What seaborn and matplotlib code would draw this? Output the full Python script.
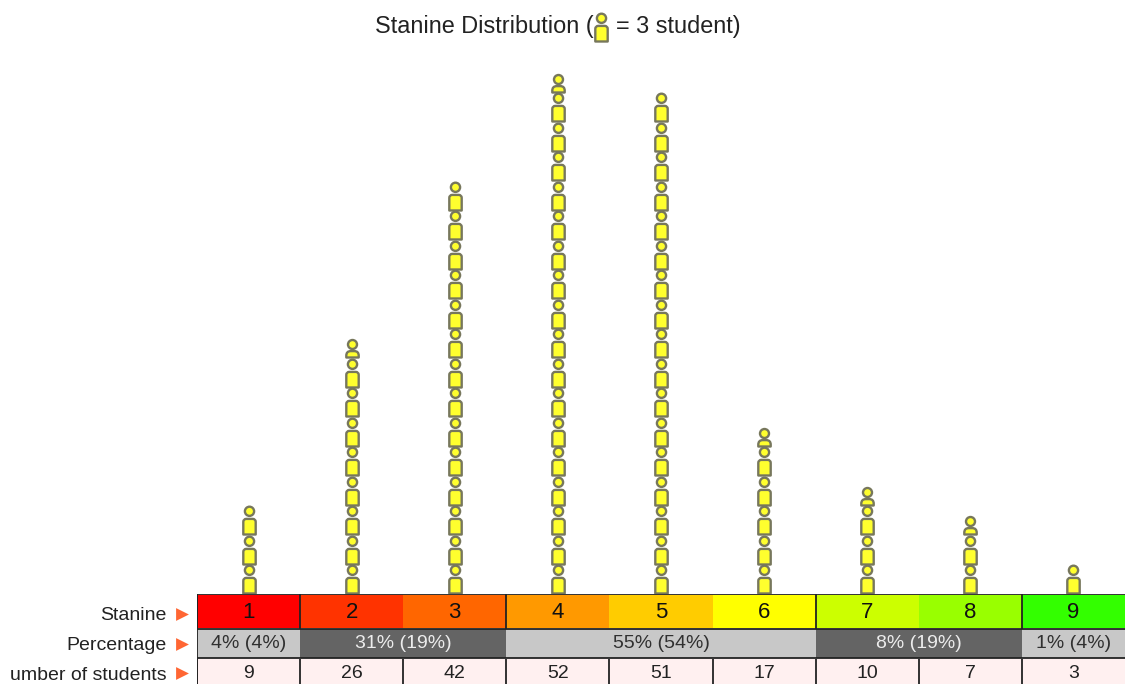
import matplotlib
matplotlib.use("Agg")
import matplotlib.pyplot as plt
import numpy as np
import pandas as pd
import seaborn as sns
from matplotlib.path import Path
from matplotlib.transforms import blended_transform_factory

sns.set_theme(style="white")
plt.rcParams["font.family"] = ["Liberation Sans", "DejaVu Sans"]

# Student counts and report table contents
stanines = [1, 2, 3, 4, 5, 6, 7, 8, 9]
students = [9, 26, 42, 52, 51, 17, 10, 7, 3]
stanine_colors = ["#ff0000", "#ff3300", "#ff6600", "#ff9900", "#ffcc00",
                  "#ffff00", "#ccff00", "#99ff00", "#33ff00"]
band_labels = ["4% (4%)", "31% (19%)", "55% (54%)", "8% (19%)", "1% (4%)"]
band_starts = [1, 2, 4, 7, 9]
band_ends = [1, 3, 6, 8, 9]
band_fills = ["#c8c8c8", "#646464", "#c8c8c8", "#646464", "#c8c8c8"]
band_text = ["#303030", "#ececec", "#303030", "#ececec", "#303030"]
row_labels = ["Stanine", "Percentage", "umber of students"]
students_per_icon = 3

DPI = 100
W, H = 1125, 684
LEFT, BASE = 197, 594
UNIT_PX = 103.1
PITCH_PX = 29.47
ICON_FACE = "#ffff2e"
ICON_EDGE = "#77775c"
ICON_LW = 1.7


def icon_path(body_h, corner, head_y, head_r):
    """Pictogram with its origin at the middle of the feet, in pixels."""
    hw = 6.2
    verts = [(-hw, 1), (hw, 1), (hw, body_h - corner), (hw, body_h), (hw - corner, body_h),
             (-hw + corner, body_h), (-hw, body_h), (-hw, body_h - corner), (-hw, 1)]
    codes = [Path.MOVETO, Path.LINETO, Path.LINETO, Path.CURVE3, Path.CURVE3,
             Path.LINETO, Path.CURVE3, Path.CURVE3, Path.CLOSEPOLY]
    head = Path.circle((0, head_y), head_r)
    verts += [tuple(v) for v in head.vertices]
    codes += list(head.codes)
    return Path(verts, codes)


def marker_size(path):
    # matplotlib scales custom markers by their largest coordinate
    extent = np.abs(path.vertices).max()
    return (2 * extent * 72 / DPI) ** 2


rows = []
for st, n in zip(stanines, students):
    whole = n // students_per_icon
    for i in range(whole):
        rows.append((st, i * students_per_icon, "full"))
    if n % students_per_icon:
        rows.append((st, whole * students_per_icon, "part"))
icons = pd.DataFrame(rows, columns=["stanine", "count", "kind"])

fig = plt.figure(figsize=(W / DPI, H / DPI), dpi=DPI, facecolor="white")
ax = fig.add_axes([LEFT / W, (H - BASE) / H, (W - LEFT) / W, BASE / H])
x_limits = (0.5, 0.5 + (W - LEFT) / UNIT_PX)
ax.set_xlim(x_limits)
ax.set_ylim(0, BASE / PITCH_PX * students_per_icon)
ax.axis("off")

full_path = icon_path(16.6, 3.0, 24.2, 4.6)
part_path = icon_path(7.4, 4.5, 14.0, 4.5)
for kind, path in (("full", full_path), ("part", part_path)):
    sns.scatterplot(data=icons[icons["kind"] == kind], x="stanine", y="count",
                    marker=path, s=marker_size(path), color=ICON_FACE,
                    edgecolor=ICON_EDGE, linewidth=ICON_LW, ax=ax, clip_on=False,
                    legend=False, zorder=3)
ax.set_xlabel("")
ax.set_ylabel("")

# Report table under the pictogram columns
tb = fig.add_axes([LEFT / W, 0, (W - LEFT) / W, (H - BASE) / H])
tb.set_xlim(x_limits)
tb.set_ylim(90, 0)
tb.set_facecolor("white")
for s in tb.spines.values():
    s.set_visible(False)
tb.set_xticks([])
tb.tick_params(axis="y", length=0, pad=22)
tb.set_yticks([19.5, 49.5, 79], row_labels, fontsize=14, color="#222222")

R1, R2, R3 = (1, 34), (35, 64), (65, 94)
tb.bar(stanines, R1[1] - R1[0], bottom=R1[0], width=1, color=stanine_colors, linewidth=0)
for st in stanines:
    tb.text(st, 18.5, str(st), ha="center", va="center", fontsize=16, color="#111111")

for a, b, lab, fill, tc in zip(band_starts, band_ends, band_labels, band_fills, band_text):
    tb.bar((a + b) / 2, R2[1] - R2[0], bottom=R2[0], width=b - a + 1, color=fill, linewidth=0)
    tb.text((a + b) / 2, 50, lab, ha="center", va="center", fontsize=14, color=tc)

tb.bar(stanines, R3[1] - R3[0], bottom=R3[0], width=1, color="#fff0f0", linewidth=0)
for st, n in zip(stanines, students):
    tb.text(st, 79, str(n), ha="center", va="center", fontsize=14, color="#222222")

# Table rules
line = "#222222"
tb.hlines([0.3, 34.6, 64.4], 0.5, x_limits[1], color=line, lw=1.3, zorder=4)
tb.vlines(np.array(stanines) - 0.5, R3[0], R3[1], color=line, lw=1.3, zorder=4)
tb.vlines([a - 0.5 for a in band_starts], 0, 34.6, color=line, lw=1.3, zorder=4)
tb.vlines([0.5], 0, 94, color=line, lw=1.3, zorder=4)

# Row arrows between the labels and the table
trans = blended_transform_factory(fig.transFigure, tb.transData)
tb.scatter([181.5 / W] * 3, [19.5, 49.5, 79], marker=">", s=85, color="#ff6633",
           linewidth=0, transform=trans, clip_on=False, zorder=5)

# Title with the inline icon as its key
fig.text(375 / W, 1 - 26 / H, "Stanine Distribution (", ha="left", va="center",
         fontsize=16.9, color="#222222")
fig.text(741 / W, 1 - 26 / H, "= 3 student)", ha="right", va="center",
         fontsize=16.9, color="#222222")
key = fig.add_axes([0, 0, 1, 1], facecolor="none")
key.set_xlim(0, W)
key.set_ylim(H, 0)
key.axis("off")
key.scatter([600.5], [41.5], marker=full_path, s=marker_size(full_path),
            color=ICON_FACE, edgecolor=ICON_EDGE, linewidth=ICON_LW)

fig.savefig("out.png", dpi=DPI)
